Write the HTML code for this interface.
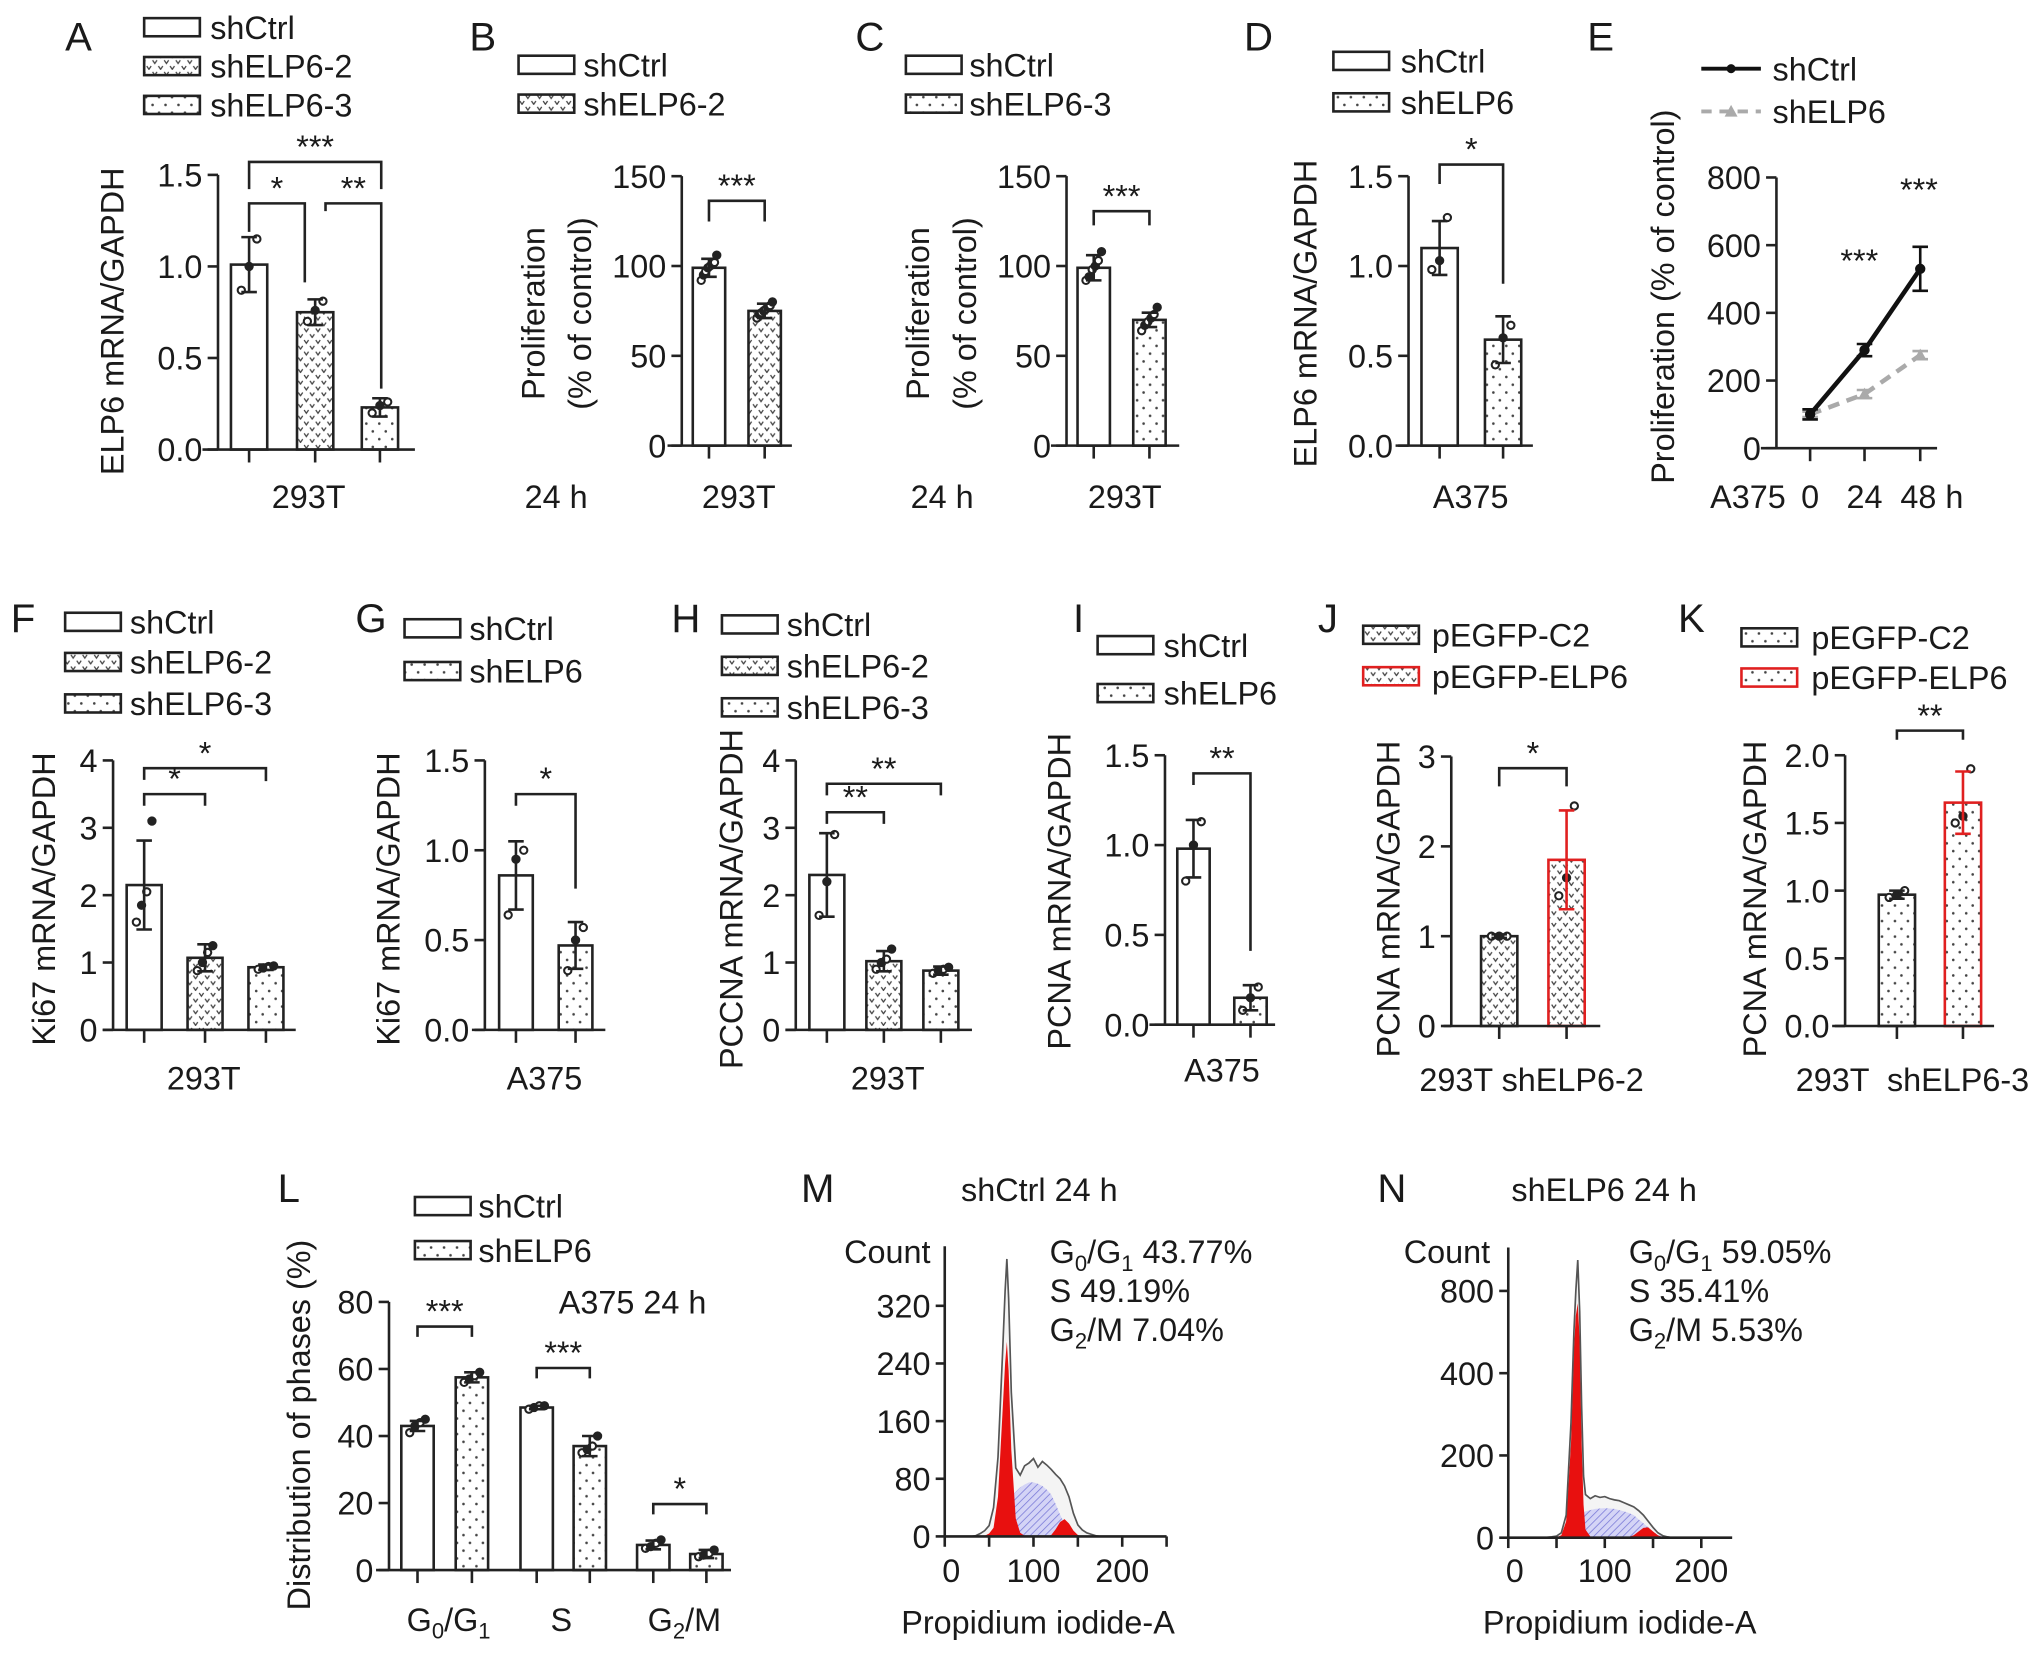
<!DOCTYPE html>
<html><head><meta charset="utf-8"><title>ELP6 figure</title>
<style>
html,body{margin:0;padding:0;background:#fff;}
svg{display:block;}
text{font-family:"Liberation Sans",Arial,sans-serif;fill:#1a1a1a;}
</style></head>
<body>
<svg id="fig" xmlns="http://www.w3.org/2000/svg" width="2032" height="1653" viewBox="0 0 1568 1276">
<defs>
<pattern id="chev" width="9" height="9" patternUnits="userSpaceOnUse">
<rect width="9" height="9" fill="#fff"/>
<path d="M0.5 1.5 L2.2 4 L3.9 1.5 M5 6 L6.7 8.5 L8.4 6" stroke="#444" stroke-width="1" fill="none"/>
</pattern>
<pattern id="dots" width="10" height="12" patternUnits="userSpaceOnUse">
<rect width="10" height="12" fill="#fff"/>
<circle cx="2.5" cy="3" r="1" fill="#444"/><circle cx="7.5" cy="9" r="1" fill="#444"/>
</pattern>
<pattern id="hatch" width="4" height="4" patternUnits="userSpaceOnUse" patternTransform="rotate(45)">
<rect width="4" height="4" fill="#d4d4f6"/>
<line x1="0" y1="0" x2="0" y2="4" stroke="#7a7ad8" stroke-width="1.2"/>
</pattern>
</defs>

<!-- Panel letters -->
<g font-size="31">
<text x="50" y="39">A</text>
<text x="362" y="39">B</text>
<text x="660" y="39">C</text>
<text x="960" y="39">D</text>
<text x="1225" y="39">E</text>
<text x="8" y="488">F</text>
<text x="274" y="488">G</text>
<text x="518" y="488">H</text>
<text x="828" y="488">I</text>
<text x="1017" y="488">J</text>
<text x="1295" y="488">K</text>
<text x="214" y="928">L</text>
<text x="618" y="928">M</text>
<text x="1063" y="928">N</text>
</g>

<!-- Legends -->
<g font-size="25" stroke-width="2">
<g>
<rect x="111" y="14" width="43" height="14" fill="#fff" stroke="#222"/><text x="162" y="30">shCtrl</text>
<rect x="111" y="44" width="43" height="14" fill="url(#chev)" stroke="#222"/><text x="162" y="60">shELP6-2</text>
<rect x="111" y="74" width="43" height="14" fill="url(#dots)" stroke="#222"/><text x="162" y="90">shELP6-3</text>
</g>
<g>
<rect x="400" y="43" width="43" height="14" fill="#fff" stroke="#222"/><text x="450" y="59">shCtrl</text>
<rect x="400" y="73" width="43" height="14" fill="url(#chev)" stroke="#222"/><text x="450" y="89">shELP6-2</text>
</g>
<g>
<rect x="699" y="43" width="43" height="14" fill="#fff" stroke="#222"/><text x="748" y="59">shCtrl</text>
<rect x="699" y="73" width="43" height="14" fill="url(#dots)" stroke="#222"/><text x="748" y="89">shELP6-3</text>
</g>
<g>
<rect x="1029" y="40" width="43" height="14" fill="#fff" stroke="#222"/><text x="1081" y="56">shCtrl</text>
<rect x="1029" y="72" width="43" height="14" fill="url(#dots)" stroke="#222"/><text x="1081" y="88">shELP6</text>
</g>
<g>
<line x1="1313" y1="53" x2="1359" y2="53" stroke="#111" stroke-width="3"/><circle cx="1336" cy="53" r="3.5" fill="#111"/>
<text x="1368" y="62">shCtrl</text>
<line x1="1313" y1="86" x2="1359" y2="86" stroke="#aaa" stroke-width="3" stroke-dasharray="8,6"/>
<path d="M1331 90 L1336 81 L1341 90 Z" fill="#aaa"/>
<text x="1368" y="95">shELP6</text>
</g>
<g>
<rect x="50" y="473" width="43" height="14" fill="#fff" stroke="#222"/><text x="100" y="489">shCtrl</text>
<rect x="50" y="504" width="43" height="14" fill="url(#chev)" stroke="#222"/><text x="100" y="520">shELP6-2</text>
<rect x="50" y="536" width="43" height="14" fill="url(#dots)" stroke="#222"/><text x="100" y="552">shELP6-3</text>
</g>
<g>
<rect x="312" y="478" width="43" height="14" fill="#fff" stroke="#222"/><text x="362" y="494">shCtrl</text>
<rect x="312" y="511" width="43" height="14" fill="url(#dots)" stroke="#222"/><text x="362" y="527">shELP6</text>
</g>
<g>
<rect x="557" y="475" width="43" height="14" fill="#fff" stroke="#222"/><text x="607" y="491">shCtrl</text>
<rect x="557" y="507" width="43" height="14" fill="url(#chev)" stroke="#222"/><text x="607" y="523">shELP6-2</text>
<rect x="557" y="539" width="43" height="14" fill="url(#dots)" stroke="#222"/><text x="607" y="555">shELP6-3</text>
</g>
<g>
<rect x="847" y="491" width="43" height="14" fill="#fff" stroke="#222"/><text x="898" y="507">shCtrl</text>
<rect x="847" y="528" width="43" height="14" fill="url(#dots)" stroke="#222"/><text x="898" y="544">shELP6</text>
</g>
<g>
<rect x="1052" y="483" width="43" height="14" fill="url(#chev)" stroke="#222"/><text x="1105" y="499">pEGFP-C2</text>
<rect x="1052" y="515" width="43" height="14" fill="url(#chev)" stroke="#e02020"/><text x="1105" y="531">pEGFP-ELP6</text>
</g>
<g>
<rect x="1344" y="485" width="43" height="14" fill="url(#dots)" stroke="#222"/><text x="1398" y="501">pEGFP-C2</text>
<rect x="1344" y="516" width="43" height="14" fill="url(#dots)" stroke="#e02020"/><text x="1398" y="532">pEGFP-ELP6</text>
</g>
<g>
<rect x="320" y="924" width="43" height="14" fill="#fff" stroke="#222"/><text x="369" y="940">shCtrl</text>
<rect x="320" y="958" width="43" height="14" fill="url(#dots)" stroke="#222"/><text x="369" y="974">shELP6</text>
</g>
</g>

<!-- Axis titles and category labels -->
<g font-size="25">
<text transform="translate(95,248) rotate(-90)" text-anchor="middle">ELP6 mRNA/GAPDH</text>
<text x="238" y="392" text-anchor="middle">293T</text>
<text transform="translate(420,242) rotate(-90)" text-anchor="middle">Proliferation</text>
<text transform="translate(456,242) rotate(-90)" text-anchor="middle">(% of control)</text>
<text x="429" y="392" text-anchor="middle">24 h</text>
<text x="570" y="392" text-anchor="middle">293T</text>
<text transform="translate(717,242) rotate(-90)" text-anchor="middle">Proliferation</text>
<text transform="translate(753,242) rotate(-90)" text-anchor="middle">(% of control)</text>
<text x="727" y="392" text-anchor="middle">24 h</text>
<text x="868" y="392" text-anchor="middle">293T</text>
<text transform="translate(1016,242) rotate(-90)" text-anchor="middle">ELP6 mRNA/GAPDH</text>
<text x="1135" y="392" text-anchor="middle">A375</text>
<text transform="translate(1292,229) rotate(-90)" text-anchor="middle">Proliferation (% of control)</text>
<text x="1349" y="392" text-anchor="middle">A375</text>
<text transform="translate(42,694) rotate(-90)" text-anchor="middle">Ki67 mRNA/GAPDH</text>
<text x="157" y="841" text-anchor="middle">293T</text>
<text transform="translate(308,694) rotate(-90)" text-anchor="middle">Ki67 mRNA/GAPDH</text>
<text x="420" y="841" text-anchor="middle">A375</text>
<text transform="translate(573,694) rotate(-90)" text-anchor="middle">PCCNA mRNA/GAPDH</text>
<text x="685" y="841" text-anchor="middle">293T</text>
<text transform="translate(826,688) rotate(-90)" text-anchor="middle">PCNA mRNA/GAPDH</text>
<text x="943" y="835" text-anchor="middle">A375</text>
<text transform="translate(1080,694) rotate(-90)" text-anchor="middle">PCNA mRNA/GAPDH</text>
<text x="1182" y="842" text-anchor="middle">293T shELP6-2</text>
<text transform="translate(1363,694) rotate(-90)" text-anchor="middle">PCNA mRNA/GAPDH</text>
<text x="1476" y="842" text-anchor="middle" xml:space="preserve">293T  shELP6-3</text>
<text transform="translate(239,1100) rotate(-90)" text-anchor="middle">Distribution of phases (%)</text>
<text x="488" y="1014" text-anchor="middle">A375 24 h</text>
<text x="346" y="1259" text-anchor="middle">G<tspan font-size="17" dy="6">0</tspan><tspan dy="-6">/G</tspan><tspan font-size="17" dy="6">1</tspan></text>
<text x="433" y="1259" text-anchor="middle">S</text>
<text x="528" y="1259" text-anchor="middle">G<tspan font-size="17" dy="6">2</tspan><tspan dy="-6">/M</tspan></text>
<text x="802" y="927" text-anchor="middle">shCtrl 24 h</text>
<text x="718" y="975" text-anchor="end">Count</text>
<text x="810" y="975">G<tspan font-size="17" dy="6">0</tspan><tspan dy="-6">/G</tspan><tspan font-size="17" dy="6">1</tspan><tspan dy="-6"> 43.77%</tspan></text>
<text x="810" y="1005">S 49.19%</text>
<text x="810" y="1035">G<tspan font-size="17" dy="6">2</tspan><tspan dy="-6">/M 7.04%</tspan></text>
<text x="801" y="1261" text-anchor="middle">Propidium iodide-A</text>
<text x="1238" y="927" text-anchor="middle">shELP6 24 h</text>
<text x="1150" y="975" text-anchor="end">Count</text>
<text x="1257" y="975">G<tspan font-size="17" dy="6">0</tspan><tspan dy="-6">/G</tspan><tspan font-size="17" dy="6">1</tspan><tspan dy="-6"> 59.05%</tspan></text>
<text x="1257" y="1005">S 35.41%</text>
<text x="1257" y="1035">G<tspan font-size="17" dy="6">2</tspan><tspan dy="-6">/M 5.53%</tspan></text>
<text x="1250" y="1261" text-anchor="middle">Propidium iodide-A</text>
</g>
<g id="marks"></g>
</svg>

<script>
// ---------- data ----------
const A_values = [1.01, 0.75, 0.23];
const A_errors = [0.15, 0.07, 0.05];
const A_points = [[0.87, 1.0, 1.15], [0.70, 0.76, 0.81], [0.20, 0.24, 0.26]];
const B_values = [99, 75];
const B_errors = [5, 4];
const B_points = [[92, 95, 97, 99, 100, 101, 102, 106], [71, 73, 74, 75, 76, 77, 78, 80]];
const C_values = [99, 70];
const C_errors = [7, 4];
const C_points = [[92, 94, 98, 100, 103, 108], [64, 67, 69, 71, 73, 77]];
const D_values = [1.10, 0.59];
const D_errors = [0.15, 0.13];
const D_points = [[0.98, 1.03, 1.27], [0.45, 0.60, 0.67]];
const E_times = ['0', '24', '48 h'];
const E_ctrl = [100, 290, 530];
const E_ctrlErr = [15, 18, 65];
const E_sh = [100, 160, 275];
const E_shErr = [8, 12, 12];
const F_values = [2.15, 1.07, 0.93];
const F_errors = [0.66, 0.20, 0.04];
const F_points = [[1.6, 1.85, 2.05, 3.1], [0.88, 1.0, 1.15, 1.25], [0.90, 0.92, 0.94, 0.95]];
const G_values = [0.86, 0.47];
const G_errors = [0.19, 0.13];
const G_points = [[0.64, 0.95, 1.0], [0.33, 0.50, 0.57]];
const H_values = [2.3, 1.02, 0.88];
const H_errors = [0.62, 0.15, 0.06];
const H_points = [[1.7, 2.2, 2.9], [0.9, 1.0, 1.05, 1.2], [0.84, 0.88, 0.9, 0.93]];
const I_values = [0.98, 0.15];
const I_errors = [0.16, 0.07];
const I_points = [[0.80, 1.0, 1.13], [0.08, 0.15, 0.21]];
const J_values = [1.0, 1.85];
const J_errors = [0.02, 0.55];
const J_points = [[1.0, 1.0, 1.0], [1.45, 1.65, 2.45]];
const K_values = [0.97, 1.65];
const K_errors = [0.03, 0.23];
const K_points = [[0.95, 0.97, 1.0], [1.50, 1.55, 1.90]];
const L_phases = ['G0/G1', 'S', 'G2/M'];
const L_ctrl = [43, 48.5, 7.5];
const L_ctrlErr = [1.5, 0.5, 1.3];
const L_sh = [57.5, 37, 4.8];
const L_shErr = [1.5, 3, 1.2];
const L_ctrlPts = [[41, 43, 44, 45], [48, 48.5, 49, 49], [6.5, 7, 8, 9]];
const L_shPts = [[56, 57, 58, 59], [35, 36, 37, 40], [4, 4.5, 5, 6]];
const ticks_15 = [0, 0.5, 1.0, 1.5];
const ticks_15_labels = ['0.0', '0.5', '1.0', '1.5'];
const ticks_150 = [0, 50, 100, 150];
const ticks_150_labels = ['0', '50', '100', '150'];
const ticks_800 = [0, 200, 400, 600, 800];
const ticks_800_labels = ['0', '200', '400', '600', '800'];
const ticks_4 = [0, 1, 2, 3, 4];
const ticks_4_labels = ['0', '1', '2', '3', '4'];
const ticks_3 = [0, 1, 2, 3];
const ticks_3_labels = ['0', '1', '2', '3'];
const ticks_2 = [0, 0.5, 1.0, 1.5, 2.0];
const ticks_2_labels = ['0.0', '0.5', '1.0', '1.5', '2.0'];
const ticks_L = [0, 20, 40, 60, 80];
const ticks_L_labels = ['0', '20', '40', '60', '80'];
// flow histograms (PI-A channel vs count)
const M_x = [30, 35, 40, 45, 50, 55, 60, 65, 68, 70, 72, 75, 80, 85, 90, 95, 100, 105, 110, 115, 120, 125, 130, 135, 140, 145, 150, 155, 160, 165, 170, 175];
const M_total = [0, 1, 4, 8, 15, 40, 110, 250, 340, 385, 330, 200, 95, 85, 98, 102, 108, 96, 104, 99, 93, 86, 80, 70, 55, 32, 16, 9, 5, 3, 1, 0];
const M_g1 = [0, 0, 0, 1, 4, 12, 55, 170, 240, 270, 230, 120, 25, 5, 1, 0, 0, 0, 0, 0, 0, 0, 0, 0, 0, 0, 0, 0, 0, 0, 0, 0];
const M_s = [0, 0, 0, 1, 3, 8, 18, 32, 40, 45, 50, 55, 62, 68, 72, 75, 75, 73, 70, 65, 58, 45, 30, 18, 8, 3, 0, 0, 0, 0, 0, 0];
const M_g2 = [0, 0, 0, 0, 0, 0, 0, 0, 0, 0, 0, 0, 0, 0, 0, 0, 0, 0, 0, 0, 2, 10, 20, 24, 18, 8, 2, 0, 0, 0, 0, 0];
const N_x = [40, 45, 50, 55, 60, 65, 68, 70, 72, 74, 76, 78, 80, 85, 90, 95, 100, 105, 110, 115, 120, 125, 130, 135, 140, 145, 150, 155, 160, 165, 170];
const N_total = [1, 2, 4, 12, 55, 280, 600, 800, 950, 700, 320, 150, 105, 95, 102, 98, 100, 95, 92, 90, 85, 80, 75, 66, 55, 40, 25, 12, 5, 2, 0];
const N_g1 = [0, 0, 1, 6, 40, 230, 520, 680, 740, 560, 230, 80, 20, 3, 0, 0, 0, 0, 0, 0, 0, 0, 0, 0, 0, 0, 0, 0, 0, 0, 0];
const N_s = [0, 0, 0, 2, 10, 30, 45, 50, 55, 58, 60, 62, 64, 67, 70, 71, 72, 71, 70, 67, 64, 60, 55, 45, 35, 25, 15, 7, 3, 0, 0];
const N_g2 = [0, 0, 0, 0, 0, 0, 0, 0, 0, 0, 0, 0, 0, 0, 0, 0, 0, 0, 0, 0, 0, 2, 6, 15, 24, 25, 15, 6, 1, 0, 0];
const M_ticks = [0, 80, 160, 240, 320];
const M_tickLabels = ['0', '80', '160', '240', '320'];
const N_ticks = [0, 200, 400, 800];
const N_tickLabels = ['0', '200', '400', '800'];
const hist_xticks = [0, 50, 100, 150, 200, 250];
const hist_xlabels = ['0', '', '100', '', '200', ''];

// ---------- helpers ----------
const NS = 'http://www.w3.org/2000/svg';
const FS = 25;
const root = document.getElementById('marks');
function mk(tag, attrs, parent) {
  const e = document.createElementNS(NS, tag);
  for (const k in attrs) e.setAttribute(k, attrs[k]);
  (parent || root).appendChild(e);
  return e;
}
function scaleY(L) { return v => L.y0 - (v / L.vmax) * (L.y0 - L.yTop); }

function yAxis(L, ticks, labels, Y, g) {
  const ax = mk('line', {x1: L.ax, y1: L.yTop, x2: L.ax, y2: L.y0, stroke: '#222', 'stroke-width': 2}, g);
  
  
  ticks.forEach((t, i) => {
    const y = Y(t);
    const tk = mk('line', {x1: L.ax - 8, y1: y, x2: L.ax, y2: y, stroke: '#222', 'stroke-width': 2}, g);
    
    
    const tl = mk('text', {x: L.ax - 12, y: y + 9, 'text-anchor': 'end', 'font-size': FS}, g);
    tl.textContent = labels[i];
    
    
  });
}
function xAxis(L, xs, g) {
  const ax = mk('line', {x1: L.xr[0], y1: L.y0, x2: L.xr[1], y2: L.y0, stroke: '#222', 'stroke-width': 2}, g);
  
  
  xs.forEach(x => {
    const tk = mk('line', {x1: x, y1: L.y0, x2: x, y2: L.y0 + 10, stroke: '#222', 'stroke-width': 2}, g);
    
    
  });
}
function errBar(x, Y, v, e, color, g) {
  const eb = mk('path', {d: `M${x} ${Y(v - e)} L${x} ${Y(v + e)} M${x - 6} ${Y(v + e)} L${x + 6} ${Y(v + e)} M${x - 6} ${Y(v - e)} L${x + 6} ${Y(v - e)}`,
    stroke: color, 'stroke-width': 2, fill: 'none'}, g);
  
  
}
function points(x, Y, pts, g) {
  pts.forEach((p, i) => {
    const off = pts.length > 1 ? (i / (pts.length - 1) - 0.5) * 12 : 0;
    const c = mk('circle', {cx: x + off, cy: Y(p), r: 2.8, fill: i % 2 ? '#222' : '#fff', stroke: '#222', 'stroke-width': 1.6}, g);
    
    
  });
}
function bracket(b, g) {
  const [x1, x2, y, yl, yr, label] = b;
  const p = mk('path', {d: `M${x1} ${yl} L${x1} ${y} L${x2} ${y} L${x2} ${yr}`, stroke: '#222', 'stroke-width': 2, fill: 'none'}, g);
  
  
  const t = mk('text', {x: (x1 + x2) / 2, y: y - 3, 'text-anchor': 'middle', 'font-size': FS}, g);
  t.textContent = label;
  
  
}
function barPanel(name, L, values, errors, pts, ticks, labels, brackets) {
  const g = mk('g', {});
  
  
  const Y = scaleY(L);
  values.forEach((v, i) => {
    const c = L.centers[i];
    const r = mk('rect', {x: c - L.w / 2, y: Y(v), width: L.w, height: L.y0 - Y(v), fill: L.fills[i], stroke: L.strokes[i], 'stroke-width': 2}, g);
    
    
  });
  values.forEach((v, i) => {
    points(L.centers[i], Y, pts[i], g);
    errBar(L.centers[i], Y, v, errors[i], L.strokes[i], g);
  });
  yAxis(L, ticks, labels, Y, g);
  xAxis(L, L.centers, g);
  (brackets || []).forEach(b => bracket(b, g));
}

// ---------- layouts ----------
const K = '#222', R = '#e02020';
barPanel('panel-a', {ax: 168, y0: 347, yTop: 135, vmax: 1.5, centers: [192, 243, 293], w: 28, xr: [156, 320],
  fills: ['#fff', 'url(#chev)', 'url(#dots)'], strokes: [K, K, K]}, A_values, A_errors, A_points, ticks_15, ticks_15_labels,
  [[192, 294, 125, 146, 146, '***'], [192, 235, 157, 179, 218, '*'], [251, 294, 157, 163, 300, '**']]);
barPanel('panel-b', {ax: 526, y0: 344, yTop: 136, vmax: 150, centers: [547, 590], w: 25, xr: [515, 611],
  fills: ['#fff', 'url(#chev)'], strokes: [K, K]}, B_values, B_errors, B_points, ticks_150, ticks_150_labels,
  [[547, 590, 155, 171, 171, '***']]);
barPanel('panel-c', {ax: 823, y0: 344, yTop: 136, vmax: 150, centers: [844, 887], w: 25, xr: [811, 910],
  fills: ['#fff', 'url(#dots)'], strokes: [K, K]}, C_values, C_errors, C_points, ticks_150, ticks_150_labels,
  [[844, 887, 163, 174, 174, '***']]);
barPanel('panel-d', {ax: 1087, y0: 344, yTop: 136, vmax: 1.5, centers: [1111, 1160], w: 28, xr: [1077, 1183],
  fills: ['#fff', 'url(#dots)'], strokes: [K, K]}, D_values, D_errors, D_points, ticks_15, ticks_15_labels,
  [[1111, 1160, 127, 142, 219, '*']]);
barPanel('panel-f', {ax: 87, y0: 795, yTop: 587, vmax: 4, centers: [111, 158, 205], w: 27, xr: [79, 228],
  fills: ['#fff', 'url(#chev)', 'url(#dots)'], strokes: [K, K, K]}, F_values, F_errors, F_points, ticks_4, ticks_4_labels,
  [[111, 205, 593, 602, 603, '*'], [111, 158, 613, 622, 622, '*']]);
barPanel('panel-g', {ax: 374, y0: 795, yTop: 587, vmax: 1.5, centers: [398, 444], w: 26, xr: [364, 467],
  fills: ['#fff', 'url(#dots)'], strokes: [K, K]}, G_values, G_errors, G_points, ticks_15, ticks_15_labels,
  [[398, 444, 613, 622, 686, '*']]);
barPanel('panel-h', {ax: 614, y0: 795, yTop: 587, vmax: 4, centers: [638, 682, 726], w: 27, xr: [606, 750],
  fills: ['#fff', 'url(#chev)', 'url(#dots)'], strokes: [K, K, K]}, H_values, H_errors, H_points, ticks_4, ticks_4_labels,
  [[638, 726, 605, 614, 614, '**'], [638, 682, 627, 636, 636, '**']]);
barPanel('panel-i', {ax: 899, y0: 791, yTop: 583, vmax: 1.5, centers: [921, 965], w: 25, xr: [887, 984],
  fills: ['#fff', 'url(#dots)'], strokes: [K, K]}, I_values, I_errors, I_points, ticks_15, ticks_15_labels,
  [[921, 965, 597, 606, 734, '**']]);
barPanel('panel-j', {ax: 1120, y0: 792, yTop: 584, vmax: 3, centers: [1157, 1209], w: 28, xr: [1114, 1235],
  fills: ['url(#chev)', 'url(#chev)'], strokes: [K, R]}, J_values, J_errors, J_points, ticks_3, ticks_3_labels,
  [[1157, 1209, 593, 607, 607, '*']]);
barPanel('panel-k', {ax: 1424, y0: 792, yTop: 583, vmax: 2, centers: [1464, 1515], w: 28, xr: [1414, 1539],
  fills: ['url(#dots)', 'url(#dots)'], strokes: [K, R]}, K_values, K_errors, K_points, ticks_2, ticks_2_labels,
  [[1464, 1515, 564, 571, 571, '**']]);

// Panel L (grouped bars)
(function () {
  const L = {ax: 300, y0: 1212, yTop: 1005, vmax: 80, xr: [290, 564], w: 25,
    ctrlX: [322, 414, 504], shX: [364, 455, 545]};
  const g = mk('g', {});
  
  
  const Y = scaleY(L);
  L_phases.forEach((ph, i) => {
    const r1 = mk('rect', {x: L.ctrlX[i] - L.w / 2, y: Y(L_ctrl[i]), width: L.w, height: L.y0 - Y(L_ctrl[i]), fill: '#fff', stroke: K, 'stroke-width': 2}, g);
    
    
    const r2 = mk('rect', {x: L.shX[i] - L.w / 2, y: Y(L_sh[i]), width: L.w, height: L.y0 - Y(L_sh[i]), fill: 'url(#dots)', stroke: K, 'stroke-width': 2}, g);
    
    
    points(L.ctrlX[i], Y, L_ctrlPts[i], g);
    points(L.shX[i], Y, L_shPts[i], g);
    errBar(L.ctrlX[i], Y, L_ctrl[i], L_ctrlErr[i], K, g);
    errBar(L.shX[i], Y, L_sh[i], L_shErr[i], K, g);
  });
  yAxis(L, ticks_L, ticks_L_labels, Y, g);
  xAxis(L, L.ctrlX.concat(L.shX), g);
  [[322, 364, 1024, 1032, 1032, '***'], [414, 455, 1056, 1064, 1064, '***'], [504, 545, 1161, 1169, 1169, '*']].forEach(b => bracket(b, g));
})();

// Panel E (line chart)
(function () {
  const L = {ax: 1371, y0: 346, yTop: 137, vmax: 800, xr: [1359, 1495]};
  const xs = [1397, 1439, 1482];
  const g = mk('g', {});
  
  
  const Y = scaleY(L);
  yAxis(L, ticks_800, ticks_800_labels, Y, g);
  xAxis(L, xs, g);
  E_times.forEach((t, i) => {
    const tl = mk('text', {x: xs[i] + (i === 2 ? 9 : 0), y: 392, 'text-anchor': 'middle', 'font-size': FS}, g);
    tl.textContent = t;
    
    
  });
  const sh = mk('polyline', {points: E_sh.map((v, i) => xs[i] + ',' + Y(v)).join(' '), fill: 'none', stroke: '#aaa', 'stroke-width': 3.5, 'stroke-dasharray': '9,6'}, g);
  
  
  E_sh.forEach((v, i) => {
    errBar(xs[i], Y, v, E_shErr[i], '#aaa', g);
    const m = mk('path', {d: `M${xs[i] - 5} ${Y(v) + 4} L${xs[i]} ${Y(v) - 5} L${xs[i] + 5} ${Y(v) + 4} Z`, fill: '#aaa'}, g);
    
    
  });
  const ct = mk('polyline', {points: E_ctrl.map((v, i) => xs[i] + ',' + Y(v)).join(' '), fill: 'none', stroke: '#111', 'stroke-width': 3.5}, g);
  
  
  E_ctrl.forEach((v, i) => {
    errBar(xs[i], Y, v, E_ctrlErr[i], '#111', g);
    const m = mk('circle', {cx: xs[i], cy: Y(v), r: 4, fill: '#111'}, g);
    
    
  });
  [[1435, 210, '***'], [1481, 155, '***']].forEach(s => {
    const t = mk('text', {x: s[0], y: s[1], 'text-anchor': 'middle', 'font-size': FS}, g);
    t.textContent = s[2];
    
    
  });
})();

// Histograms
function histPanel(name, H, xsData, total, g1, s, g2, yticks, ylabels) {
  const g = mk('g', {});
  
  
  const X = v => H.ax + v * H.xs;
  const Y = H.Y;
  function area(arr, fill, nm) {
    let d = `M${X(xsData[0])} ${Y(0)}`;
    arr.forEach((v, i) => { d += ` L${X(xsData[i])} ${Y(v)}`; });
    d += ` L${X(xsData[xsData.length - 1])} ${Y(0)} Z`;
    const p = mk('path', {d: d, fill: fill, stroke: 'none'}, g);
    
    
  }
  area(total, '#f4f4f4', 'histogram-fill');
  area(s, 'url(#hatch)', 'area-s-phase');
  area(g1, '#e8100f', 'area-g0g1-phase');
  area(g2, '#e8100f', 'area-g2m-phase');
  const line = mk('polyline', {points: total.map((v, i) => X(xsData[i]) + ',' + Y(v)).join(' '), fill: 'none', stroke: '#555', 'stroke-width': 1.3}, g);
  
  
  const ya = mk('line', {x1: H.ax, y1: H.top, x2: H.ax, y2: H.y0, stroke: '#222', 'stroke-width': 2}, g);
  
  
  yticks.forEach((t, i) => {
    const tk = mk('line', {x1: H.ax - 7, y1: Y(t), x2: H.ax, y2: Y(t), stroke: '#222', 'stroke-width': 2}, g);
    
    
    const tl = mk('text', {x: H.ax - 11, y: Y(t) + 9, 'text-anchor': 'end', 'font-size': FS}, g);
    tl.textContent = ylabels[i];
    
    
  });
  const xa = mk('line', {x1: H.ax, y1: H.y0, x2: X(H.xmax), y2: H.y0, stroke: '#222', 'stroke-width': 2}, g);
  
  
  hist_xticks.forEach((t, i) => {
    if (t > H.xmax) return;
    const tk = mk('line', {x1: X(t), y1: H.y0, x2: X(t), y2: H.y0 + 8, stroke: '#222', 'stroke-width': 2}, g);
    
    
    if (hist_xlabels[i]) {
      const tl = mk('text', {x: X(t) + (t === 0 ? 5 : 0), y: 1221, 'text-anchor': 'middle', 'font-size': FS}, g);
      tl.textContent = hist_xlabels[i];
      
      
    }
  });
}
histPanel('panel-m', {ax: 729, y0: 1186, top: 962, xs: 0.685, xmax: 250, Y: v => 1186 - v * (178 / 320)},
  M_x, M_total, M_g1, M_s, M_g2, M_ticks, M_tickLabels);
histPanel('panel-n', {ax: 1164, y0: 1187, top: 963, xs: 0.745, xmax: 232,
  Y: v => 1187 - (v <= 400 ? v / 200 : 2 + (v - 400) / 400) * 63.5},
  N_x, N_total, N_g1, N_s, N_g2, N_ticks, N_tickLabels);
</script>
</body></html>
